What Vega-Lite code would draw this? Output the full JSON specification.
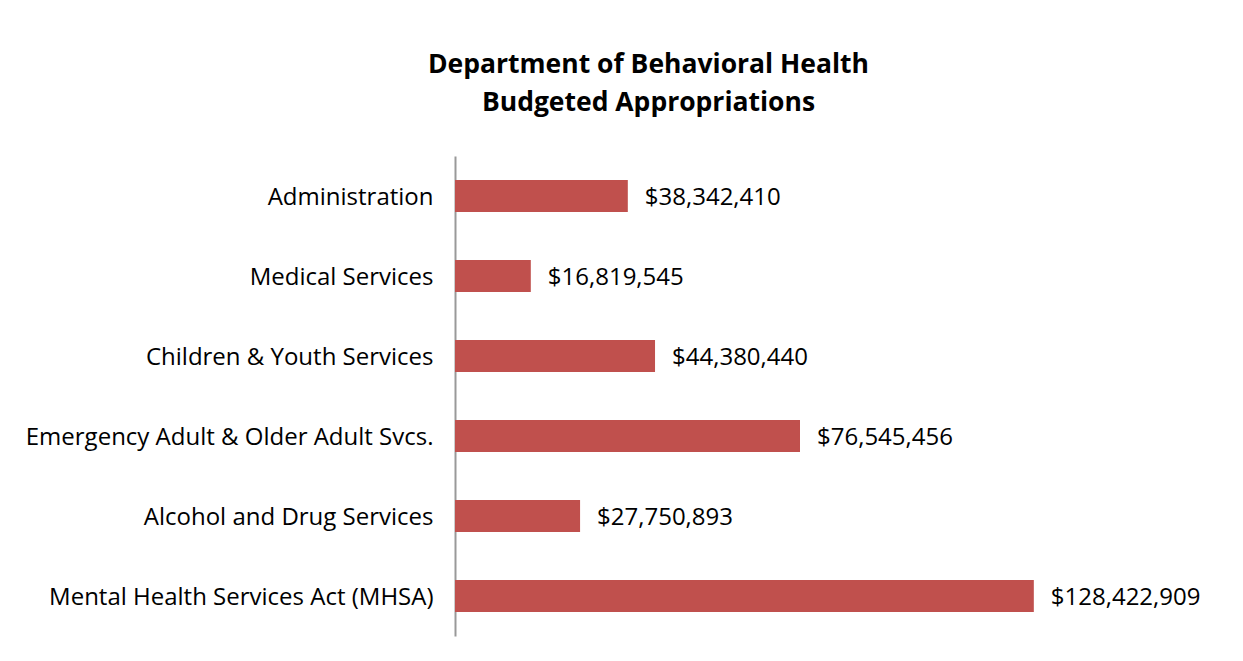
{
  "$schema": "https://vega.github.io/schema/vega-lite/v6.json",
  "autosize": {"type": "none"},
  "width": 631,
  "height": 480,
  "padding": {"left": 455, "top": 156, "right": 157, "bottom": 25},
  "background": "white",
  "title": {
    "text": ["Department of Behavioral Health", "Budgeted Appropriations"],
    "font": "Open Sans",
    "fontSize": 26.5,
    "fontWeight": "bold",
    "color": "black",
    "anchor": "middle",
    "frame": "group",
    "dx": -122,
    "lineHeight": 38,
    "offset": 40
  },
  "data": {
    "values": [
      {"category": "Administration", "amount": 38342410},
      {"category": "Medical Services", "amount": 16819545},
      {"category": "Children & Youth Services", "amount": 44380440},
      {"category": "Emergency Adult & Older Adult Svcs.", "amount": 76545456},
      {"category": "Alcohol and Drug Services", "amount": 27750893},
      {"category": "Mental Health Services Act (MHSA)", "amount": 128422909}
    ]
  },
  "encoding": {
    "y": {
      "field": "category",
      "type": "nominal",
      "sort": null,
      "title": null,
      "scale": {"paddingInner": 0.6, "paddingOuter": 0.3},
      "axis": {
        "domain": true,
        "domainColor": "#999999",
        "domainWidth": 2,
        "ticks": false,
        "labelFont": "Open Sans",
        "labelFontSize": 24,
        "labelColor": "black",
        "labelPadding": 22,
        "labelOffset": 2,
        "labelLimit": 600
      }
    },
    "x": {
      "field": "amount",
      "type": "quantitative",
      "scale": {"domain": [0, 140000000], "nice": false},
      "axis": null
    }
  },
  "layer": [
    {"mark": {"type": "bar", "color": "#C0504D"}},
    {
      "mark": {"type": "text", "align": "left", "dx": 17, "dy": 2, "font": "Open Sans", "fontSize": 24, "color": "black"},
      "encoding": {"text": {"field": "amount", "type": "quantitative", "format": "$,.0f"}}
    }
  ],
  "config": {"view": {"stroke": null}}
}
